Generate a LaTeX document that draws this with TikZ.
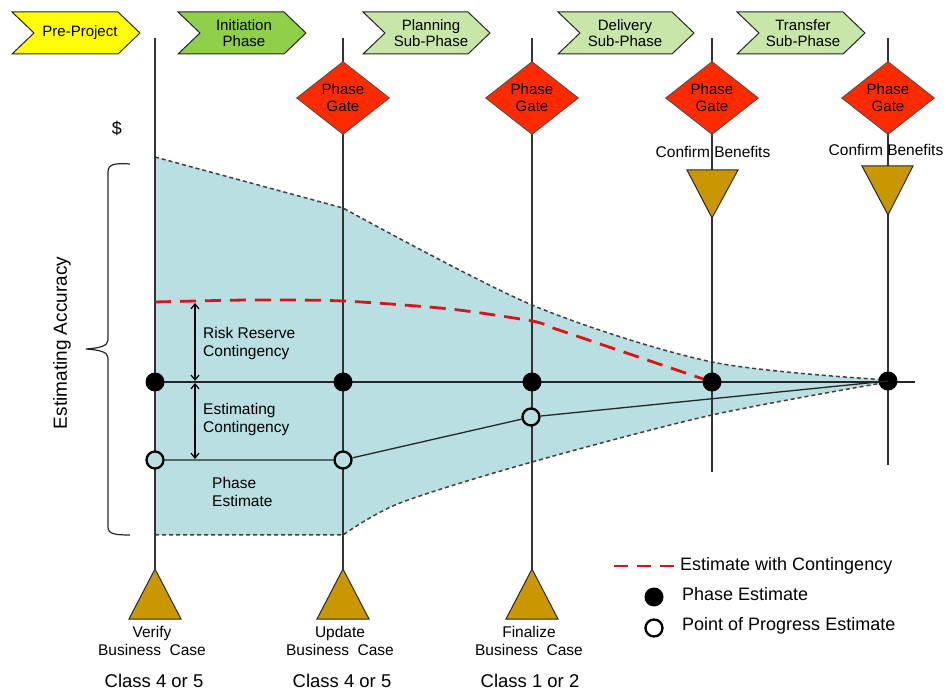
\documentclass[tikz,border=0pt]{standalone}
\usepackage{fontspec}
\setmainfont{Liberation Sans}
\usetikzlibrary{shapes.geometric,arrows.meta}
\definecolor{accfill}{HTML}{B9DFE2}
\definecolor{gateRed}{HTML}{FF2A00}
\definecolor{triGold}{HTML}{C99700}
\definecolor{chevYellow}{HTML}{FFFF00}
\definecolor{chevGreen}{HTML}{8FCF4A}
\definecolor{chevLight}{HTML}{C8E6A8}
\definecolor{estRed}{HTML}{D8141B}
\begin{document}
\begin{tikzpicture}[x=1pt,y=-1pt,
  chev/.style={draw=black!85,line width=1pt},
  chevtext/.style={font=\fontsize{15}{16.5}\selectfont,align=center,inner sep=0},
  gate/.style={diamond,draw=black!70,fill=gateRed,line width=0.8pt,minimum width=93pt,minimum height=73pt,inner sep=0,font=\fontsize{15}{17}\selectfont,align=center},
  tri/.style={draw=black!85,fill=triGold,line width=1pt,line join=miter},
  vline/.style={draw=black!80,line width=1.3pt},
  hline/.style={draw=black!85,line width=1.3pt},
  bound/.style={draw=black!75,line width=1.5pt,dash pattern=on 4pt off 3pt},
  estline/.style={draw=estRed,line width=2.8pt,dash pattern=on 16pt off 9pt},
  dotF/.style={circle,fill=black,minimum size=19pt,inner sep=0},
  dotO/.style={circle,draw=black,fill=accfill,line width=2.3pt,minimum size=17pt,inner sep=0},
  lbl/.style={font=\fontsize{15.5}{18}\selectfont,align=center,inner sep=0},
  lblL/.style={font=\fontsize{15.5}{18}\selectfont,align=left,inner sep=0,anchor=west},
  cls/.style={font=\fontsize{18.5}{20}\selectfont,inner sep=0},
  leg/.style={font=\fontsize{18}{20}\selectfont,inner sep=0,anchor=west},
  darr/.style={draw=black,line width=1.2pt,{Straight Barb[length=5pt,width=8pt]}-{Straight Barb[length=5pt,width=8pt]}}
]
\useasboundingbox (0,0) rectangle (946,692);

% accuracy band
\fill[accfill] (155,157) -- plot[smooth,tension=0.5] coordinates {(343,208) (532,305) (712,362) (888,380)}
  -- plot[smooth,tension=0.5] coordinates {(888,382) (712,415) (532,462) (400,503) (343,535)} -- (155,535) -- cycle;
\draw[bound] (155,157) -- plot[smooth,tension=0.5] coordinates {(343,208) (532,305) (712,362) (888,380)};
\draw[bound] (155,535) -- plot[smooth,tension=0.5] coordinates {(343,535) (400,503) (532,462) (712,415) (888,382)};

% vertical lines
\coordinate (t1) at (155,38); \coordinate (b1) at (155,569);
\coordinate (t2) at (343,38); \coordinate (b2) at (343,569);
\coordinate (t3) at (532,38); \coordinate (b3) at (532,569);
\coordinate (t4) at (712,38); \coordinate (b4) at (712,472);
\coordinate (t5) at (888,38); \coordinate (b5) at (888,465);
\draw[vline] (t1) -- (b1);
\draw[vline] (t2) -- (b2);
\draw[vline] (t3) -- (b3);
\draw[vline] (t4) -- (b4);
\draw[vline] (t5) -- (b5);

% chevrons
\draw[chev,fill=chevYellow] (12,12) -- (118,12) -- (140,33) -- (118,54) -- (12,54) -- (34,33) -- cycle;
\node[chevtext] (pre) at (80,33) {Pre-Project};
\draw[chev,fill=chevGreen] (178,12) -- (284,12) -- (306,33) -- (284,54) -- (178,54) -- (200,33) -- cycle;
\node[chevtext] (ini) at (244,33) {Initiation\\Phase};
\draw[chev,fill=chevLight] (363,12) -- (468,12) -- (490,33) -- (468,54) -- (363,54) -- (385,33) -- cycle;
\node[chevtext] (pla) at (431,33) {Planning\\Sub-Phase};
\draw[chev,fill=chevLight] (558,12) -- (672,12) -- (694,33) -- (672,54) -- (558,54) -- (580,33) -- cycle;
\node[chevtext] (del) at (625,33) {Delivery\\Sub-Phase};
\draw[chev,fill=chevLight] (737,12) -- (843,12) -- (865,33) -- (843,54) -- (737,54) -- (759,33) -- cycle;
\node[chevtext] (tra) at (803,33) {Transfer\\Sub-Phase};

% phase gates
\node[gate] (g2) at (343,98) {Phase\\Gate};
\node[gate] (g3) at (532,98) {Phase\\Gate};
\node[gate] (g4) at (712,98) {Phase\\Gate};
\node[gate] (g5) at (888,98) {Phase\\Gate};

% confirm benefits
\node[lbl] (cb4) at (713,152) {Confirm Benefits};
\node[lbl] (cb5) at (886,150) {Confirm Benefits};
\draw[tri] (687,170) -- (738,170) -- (712,218) -- cycle;
\draw[tri] (862,166) -- (913,166) -- (888,215) -- cycle;

% bottom triangles
\draw[tri] (129,619) -- (155,569) -- (181,619) -- cycle;
\draw[tri] (317,619) -- (343,569) -- (369,619) -- cycle;
\draw[tri] (506,619) -- (532,569) -- (558,619) -- cycle;

% estimate lines
\coordinate (hend) at (915,382);
\draw[hline] (155,382) -- (hend);
\draw[estline] plot[smooth,tension=0.45] coordinates {(155,302) (250,300) (343,301) (450,309) (532,321) (550,327)} -- (712,382);

% dimension arrows
\coordinate (ra) at (195,303); \coordinate (rb) at (195,381);
\coordinate (rc) at (195,383); \coordinate (rd) at (195,459);
\draw[darr] (ra) -- (rb);
\draw[darr] (rc) -- (rd);

% dots
\node[dotF] (p1) at (155,382) {};
\node[dotF] (p2) at (343,382) {};
\node[dotF] (p3) at (532,382) {};
\node[dotF] (p4) at (712,382) {};
\node[dotF] (p5) at (888,381) {};
\node[dotO] (o1) at (155,460) {};
\node[dotO] (o2) at (343,460) {};
\node[dotO] (o3) at (531,417) {};
\draw[hline] (o1) -- (o2) -- (o3) -- (p5.center);

% band labels
\node[lblL] (rr) at (203,343) {Risk Reserve\\Contingency};
\node[lblL] (ec) at (203,419) {Estimating\\Contingency};
\node[lblL] (pe) at (212,492) {Phase\\Estimate};

% brace and axis
\draw[black!85,line width=1.2pt] (130,164) .. controls (115,163) and (108,164) .. (108,172) -- (108,340)
  .. controls (108,346) and (100,348) .. (86,349) .. controls (100,350) and (108,352) .. (108,358)
  -- (108,527) .. controls (108,534) and (115,535) .. (130,535);
\node[font=\fontsize{19}{20}\selectfont,rotate=90,inner sep=0] (acc) at (62,343) {Estimating Accuracy};
\node[font=\fontsize{18}{20}\selectfont,inner sep=0] (dol) at (117,128) {\$};

% bottom labels
\node[lbl] (v1) at (152,641) {Verify\\Business\ \ Case};
\node[lbl] (v2) at (340,641) {Update\\Business\ \ Case};
\node[lbl] (v3) at (529,641) {Finalize\\Business\ \ Case};
\node[cls] (c1) at (154,681) {Class 4 or 5};
\node[cls] (c2) at (342,681) {Class 4 or 5};
\node[cls] (c3) at (530,681) {Class 1 or 2};

% legend
\coordinate (lg1) at (614,566); \coordinate (lg2) at (679,566);
\draw[estline,line width=2pt,dash pattern=on 14pt off 9pt] (lg1) -- (lg2);
\node[leg] (l1) at (680,566) {Estimate with Contingency};
\node[dotF] (ld1) at (654,597) {};
\node[leg] (l2) at (682,594) {Phase Estimate};
\node[dotO,fill=white] (ld2) at (654,628) {};
\node[leg] (l3) at (682,626) {Point of Progress Estimate};
\end{tikzpicture}
\end{document}
